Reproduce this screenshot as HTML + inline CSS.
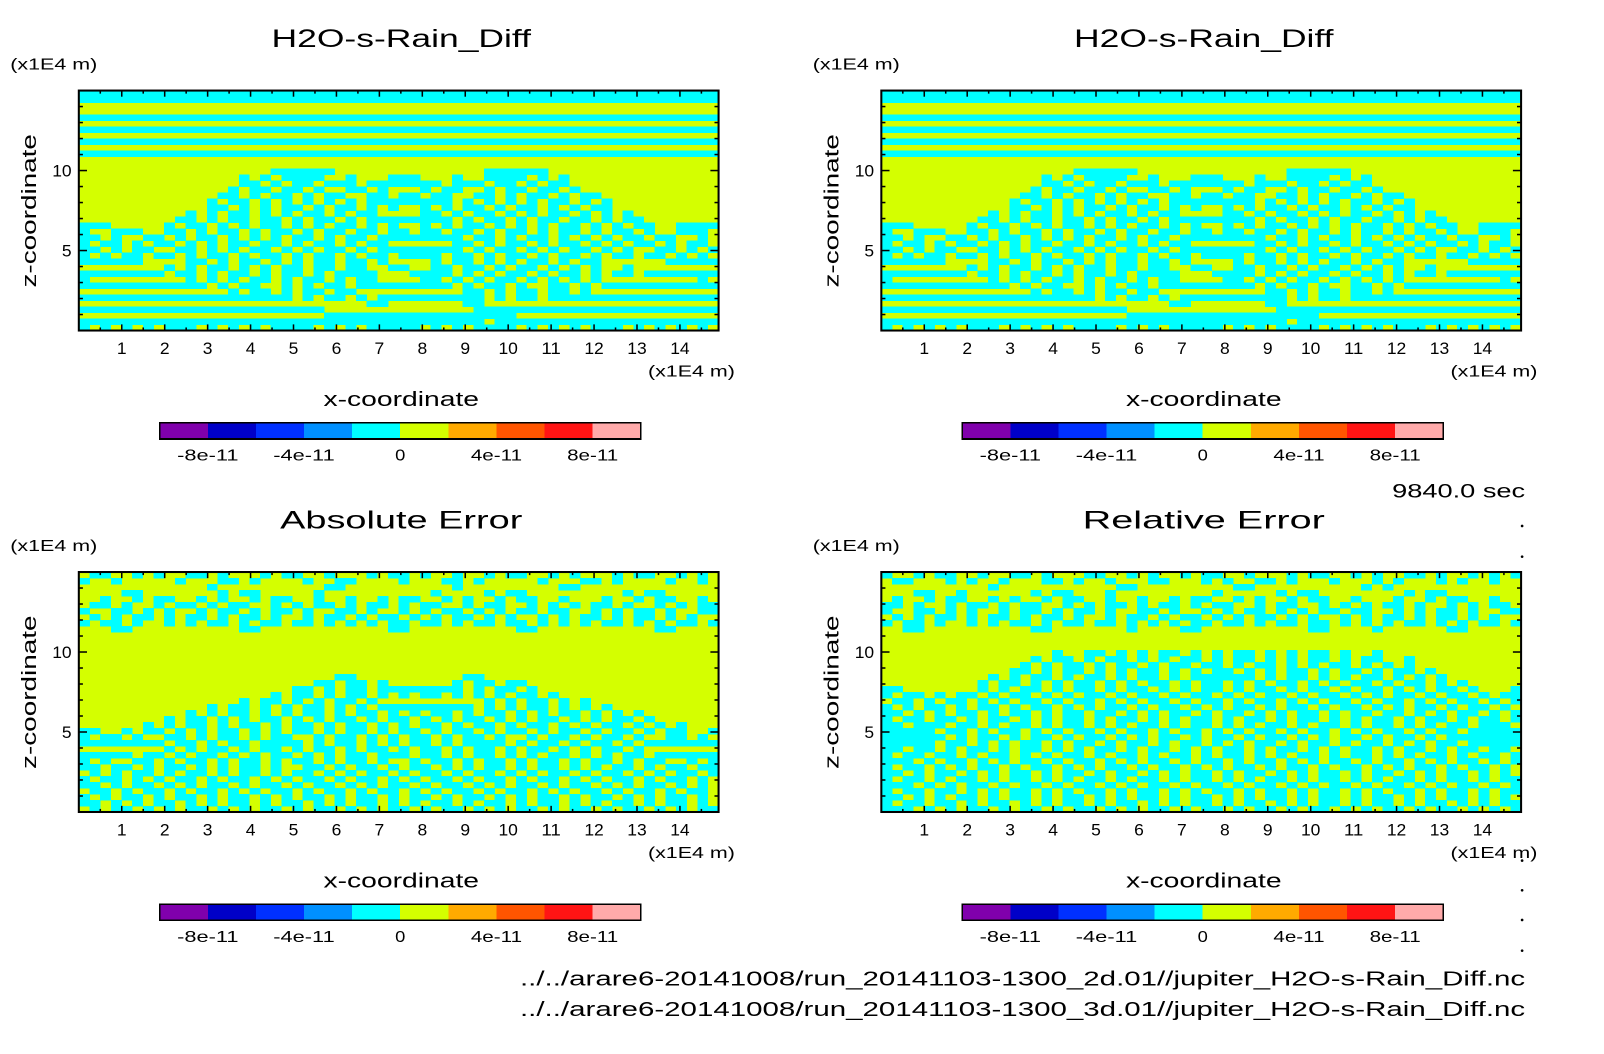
<!DOCTYPE html>
<html><head><meta charset="utf-8"><style>
html,body{margin:0;padding:0;background:#fff;}
svg{display:block;}
text{font-family:"Liberation Sans",sans-serif;fill:#000;}
</style></head><body>
<svg id="fig" width="1604" height="1054" viewBox="0 0 1567 1030" preserveAspectRatio="none" xmlns="http://www.w3.org/2000/svg">
<rect x="0" y="0" width="1567" height="1030" fill="#fff"/>
<text x="1490" y="486" font-size="19" text-anchor="end" textLength="130" lengthAdjust="spacingAndGlyphs">9840.0 sec</text>
<text x="1490" y="963" font-size="20" text-anchor="end" textLength="982" lengthAdjust="spacingAndGlyphs">../../arare6-20141008/run_20141103-1300_2d.01//jupiter_H2O-s-Rain_Diff.nc</text>
<text x="1490" y="993" font-size="20" text-anchor="end" textLength="982" lengthAdjust="spacingAndGlyphs">../../arare6-20141008/run_20141103-1300_3d.01//jupiter_H2O-s-Rain_Diff.nc</text>
<g>
<circle cx="1487" cy="514" r="1.3"/><circle cx="1487" cy="544" r="1.3"/><circle cx="1487" cy="841" r="1.3"/><circle cx="1487" cy="870" r="1.3"/><circle cx="1487" cy="899" r="1.3"/><circle cx="1487" cy="929" r="1.3"/>
</g>
</svg>
<script>
const xTicks=[1,2,3,4,5,6,7,8,9,10,11,12,13,14];
const yTicks=[5,10];
const xDomain=[0,14.9];
const yDomain=[0,15];
const cbColors=["#8000ac","#0000c8","#0030ff","#0090ff","#00ffff","#d4ff00","#ffaa00","#ff5500","#ff1414","#ffaaaa"];
const cbLabels=["-8e-11","-4e-11","0","4e-11","8e-11"];
const cbLabelIdx=[1,3,5,7,9];
const fieldA=[
"############################################################",
"############################################################",
"............................................................",
"............................................................",
"############################################################",
"............................................................",
"############################################################",
"............................................................",
"############################################################",
"............................................................",
"############################################################",
"............................................................",
"............................................................",
"..................######..............######................",
"...............#.#.####..#...###...#..####.#.#..............",
"...............##.#.##.###.#######.###.##.#.##..............",
"..............#.##.##.#..##.#...#.##..#.##.##.#.............",
".............##.#.##.#.##..##.##.##..##.#.##.#.##...........",
"............#.##.#.#.#.#.#.########.#.#.#.#.##.#.#..........",
"............##.#.#.##.#.##.#.#..#.#.##.#.##.#.#.##..........",
"..........#.#.##.#.#.##.#.##....##.#.##.#.#.##.#.#.#........",
".........##.#.##.##.#.##.#.########.#.##.#.##.##.#.##.......",
"###.....#.##.#.#.##.#.#.##.#.#..#.#.##.#.#.#.##.#.#.##..####",
"#..###..##.#.##.#.##.#.##.##.##.##.##.#.##.#.##.#.##.#..###.",
"##.#..##.#.##.#.#.#.##.#.##.########.##.#.##.#.#.#.##.##..#.",
"#.##.#.##.#.#.##.##.#.##.#.##......##.#.##.#.##.#.#.##.#.##.",
"##.#.##..##.#.#.##.#.#.##.#.########.#.##.#.#.##.#.#..##.#.#",
"#.#.##.##.#.##.#.##.#.##.#.##.####.##.#.##.#.##.#.##.##.#.#.",
"######....##.#.##.#.#.##.##.#....#.##.#.#.##.#.##......#####",
"........#.#.##.#.#.##.##.##..##..##.##.#.##.#.#.#..#........",
"########.##.#.##.#.##.#.####...####.#.#.##.#.##.#.##.#######",
"#.........#.#.#.##.#.##.#.##....##.#.#.##.#.#.#.#.........#.",
"############.#.##..#.#.##.#########.#.##.#..##.#.###########",
"..............#.##.#.##.##..........##.#.##.##.#............",
"####################.#.##.#.##########.#.##.################",
"...........................##.......##......................",
"#######################..............#######################",
".......................##################...................",
"######################################.#####################",
"#.#.#.#.###.#.#.#.####.#.#.#####.#.#.####.#.#.#.###.#.#.#.#."];
const fieldC=[
".##..#.#..##.#...#.##..#...#.##.#..#..#.##..#.#...#.##..#.#.",
"#..#.....#...##.#....#..##....#...##.#.....#...##.#....#..#.",
"............#..........##..........#.........##.............",
"....##.......#.##.....#..........#....#.##.........#.##.....",
"..#..#.##..#.#..#.##..#..#..#.##..#.#..#.##..#...#..#.##..#.",
".##.#..#.##.#.##..#.#.##.#.##.#.##..#.##..#.#.#.##.#..#.#.##",
"#..##.#.#..#.##.#.##.#..##.#..#.#.##.#.#.##.##..#.#.##.#..##",
".#.#.##.#.##.#.##.#..#.##.#.##.#.#.##.#.#..#.#.##.#.##.#.#..",
"#.##.#..#.#.##.#.##.##.#.#.#.##.##.#.##.##.#.#.#.##.#.#.##.#",
"...##..........##............##..........##...........##....",
"............................................................",
"............................................................",
"............................................................",
"............................................................",
"............................................................",
"............................................................",
"............................................................",
"........................##..........##......................",
"......................##.##.#......#.##.##..................",
"....................##.#.##.########.#.##.#.................",
"..................#.##.#.##.#.#.##.#.#.#.##.#...............",
"...............#.##.#.#.##.#..........#.#.##.#.#............",
"............#.##.#.#.##.#.#.#########.#.#.##.#.#.#..........",
"..........#.#.##.#.#.##.#.##.#.#.##.#.##.#.#.##.#.#.#.......",
"........#.##.#.#.##.#.#.##.#.##.#.#.##.#.#.##.#.#.##.#......",
"......#.#.##.#.##.#.##.#.##.#.#.##.#.##.#.##.#.#.##.#.#.#...",
"##..#.##.#.#.##.#.#.##.#.##.#.##.#.##.#.##.#.##.#.##.#.##..#",
"#.##.#..##.#.##.#.##..#.##.#.#.##.#.##.#..#.##.#.##.#..##.#.",
"########.##.#.##.####.#.##.#.#.##.#.####.#.##.#.##.#.#######",
"........#.#.##.#.##.#.##.#.##.#.##.#.##.#.##.#.#.##.#.......",
"#####.##.#.##.#.#.##.#.#.##.###.##.#.##.#.#.##.#.#.##.######",
"#.#..##.#.##.#.##.#.##.#.##.#..#.##.#.##.#.##.#.##.#.##..#.#",
"##.##.#.##.#.#.##.#..##.#.##.#.##.#.#.##.#.##.#.#.##.#.##.##",
".#.#.##.#.##.#.##.#.##.#.#.##.#.##.#.##.#.#.##.#.##.#.#.##.#",
"#.##.#.#.##.#.##.#.#.##.#.##.#.#.##.#.##.#.##.#.#.##.#.##.#.",
"##.#.##.#.#.##.#.##.#.##.#.#.##.#.##.#.#.##.#.##.#.#.##.#.#.",
".##.#.##.#.##.#.#.##.#.##.#.##.#.#.##.#.##.#.#.##.#.##.#.##.",
"#.#.##.#.##.#.##.#.#.##.#.##.#.##.#.##.#.#.##.#.##.#.#.##.#.",
"##.#.#.##.#.#.##.#.##.#.#.##.#.#.##.#.##.#.##.#.#.##.#.##.#.",
".#.##.#.#.##.#.#.##.#.##.#.#.##.#.##.#.#.##.#.##.#.##.#.#.##"];
const fieldD=[
"#..#.##..#..##.#...##..#.#..#.##..#...#.##..#.#..##.#..#.#.#",
".##...#.#..#...##.#..#...##...#.#..##.#...#...#.#...#.#..#..",
"..........#...........##.........##..........#.#............",
"...##..#......#.##...#.........#.....#.##........#.##.......",
".#..#.##..#.#..#.##..#..#..#.##..#.#..#.##..#...#..#.##..#..",
"##.#..#.##.#.##..#.#.##.#.##.#.##..#.##..#.#.#.##.#..#.#.##.",
"#..##.#.#..#.##.#.##.#..##.#..#.#.##.#.#.##.##..#.#.##.#..##",
".#.#.##.#.##.#.##.#..#.##.#.##.#.#.##.#.#..#.#.##.#.##.#.#..",
"#.##.#..#.#.##.#.##.##.#.#.#.##.##.#.##.##.#.#.#.##.#.#.##.#",
"..##..........##.......#....##..........##....#......##.....",
"............................................................",
"............................................................",
"............................................................",
"................#..##.#.#.##.#.#.##.#.#.##.#..#.............",
"..............#.##.#.##.#.#.##.#.##.#.#.##.#.##..#..........",
".............#.#.##.#.##.#.##.##.#.##.#.#.##.#.#.#..........",
"............##.#.##.#.#.##.#.#.##.#.#.##.#.##.#.##.#........",
"..........#.#.##.#.##.#.##.#.######.#.##.#.#.##.#.#.#.......",
".........#.##.#.#.##.#.#.##.#.##.#.#.##.#.#.##.#.##.#.#.....",
"##.......#.#.##.#.##.#.##.#.#.##.#.##.#.##.#.##.#.#.##.#...#",
"#.##.#.##.#.##.#.#.##.#.##.#.##.#.#.##.#.##.#.#.##.#.##.#.##",
".##.#.##.#.#.##.#.##.#.#.##.#.##.#.##.#.#.##.#.##.#.#.##.#.#",
"#.#.##.#.##.#.##.#.#.##.#.##.#.#.##.#.##.#.##.#.#.##.#.##.#.",
"##.#.#.##.#.##.#.##.##.#.#.##.#.##.#.#.##.#.##.##.#.#.##.#.#",
"#.##.##.#.##.#.#.##.#.##.#.#.##.#.##.#.##.#.#.##.#.##.#.##.#",
"##.###.##.#.##.#.##.#.#.##.#.##.#.#.##.#.##.#.##.#.#.##.###.",
"#####.##.#.##.#.#.##.#.##.#.##.#.#.##.#.##.#.#.##.#.##.#####",
"######.#.##.#.##.#.##.#.#.##.#.##.#.##.#.#.##.#.##.#.#######",
"#####.##.#.#.##.#.##.#.##.#.##.#.#.##.#.##.#.##.#.#.##.#####",
"##.##.#.##.#.##.#.#.##.#.##.#.#.##.#.##.#.#.##.#.##.#.##.##.",
"#.##.##.#.##.#.#.##.#.##.#.##.#.##.#.#.##.#.##.#.#.##.#.##.#",
"###.#.##.#.#.##.#.##.#.#.##.#.##.#.##.#.#.##.#.##.#.#.##.#.#",
"#.##.#.#.##.#.##.#.#.##.#.##.#.#.##.#.##.#.##.#.#.##.#.##.#.",
"##.#.##.#.#.##.#.##.#.##.#.#.##.#.##.#.#.##.#.##.#.#.##.#.#.",
"#.##.#.##.#.##.#.#.##.#.##.#.##.#.#.##.#.##.#.#.##.#.##.#.##",
"###.#.#.##.#.##.#.##.#.#.##.#.##.#.##.#.#.##.#.##.#.#.##.#.#",
"#.##.##.#.#.##.#.#.##.#.##.#.#.##.#.##.#.##.#.#.##.#.##.#.##",
"##.#.#.##.#.##.#.##.#.#.##.#.##.#.#.##.#.##.#.##.#.#.##.#.#.",
"#.##.##.#.##.#.#.##.#.##.#.#.##.#.##.#.#.##.#.##.#.##.#.#.##",
"###.#.#.##.#.##.#.##.#.#.##.#.##.#.##.#.##.#.#.##.#.##.#.#.#"];

const NS="http://www.w3.org/2000/svg";
const svg=document.getElementById('fig');
function mk(tag,attrs,parent){const e=document.createElementNS(NS,tag);for(const k in attrs)e.setAttribute(k,attrs[k]);(parent||svg).appendChild(e);return e;}
function txt(parent,x,y,s,size,anchor,len){const t=mk('text',{x:x,y:y,'font-size':size,'text-anchor':anchor||'start'},parent);if(len){t.setAttribute('textLength',len);t.setAttribute('lengthAdjust','spacingAndGlyphs');}t.textContent=s;return t;}

const panels=[
 {ox:0,oy:0,title:"H2O-s-Rain_Diff",field:fieldA,name:'panel-top-left'},
 {ox:784,oy:0,title:"H2O-s-Rain_Diff",field:fieldA,name:'panel-top-right'},
 {ox:0,oy:470.5,title:"Absolute Error",field:fieldC,name:'panel-absolute-error'},
 {ox:784,oy:470.5,title:"Relative Error",field:fieldD,name:'panel-relative-error'}];

panels.forEach(p=>{
 const g=mk('g',{});
 
 
 const L=77+p.ox,R=702+p.ox,T=88.5+p.oy,B=323+p.oy;
 const xs=v=>L+(v-xDomain[0])/(xDomain[1]-xDomain[0])*(R-L);
 const ys=v=>B-(v-yDomain[0])/(yDomain[1]-yDomain[0])*(B-T);
 const t=txt(g,392+p.ox,46+p.oy,p.title,24,'middle',p.title.length*16.9);
 
 
 const u=txt(g,10+p.ox,68+p.oy,"(x1E4 m)",15,'start',85);
 
 
 const hm=mk('g',{'shape-rendering':'crispEdges'},g);
 
 
 mk('rect',{x:L,y:T,width:R-L,height:B-T,fill:'#d4ff00'},hm);
 const rows=p.field.length,cols=60;
 const dx=(xDomain[1]-xDomain[0])/cols,dz=(yDomain[1]-yDomain[0])/rows;
 p.field.forEach((rowStr,r)=>{
  const s=(rowStr+"............................................................").slice(0,cols);
  const z1=yDomain[1]-r*dz,z0=z1-dz;
  let c=0;
  while(c<cols){
   if(s[c]==='#'){let e=c;while(e<cols&&s[e]==='#')e++;
    const rc=mk('rect',{x:xs(xDomain[0]+c*dx),y:ys(z1),width:xs(xDomain[0]+e*dx)-xs(xDomain[0]+c*dx)+0.3,height:ys(z0)-ys(z1)+0.3,fill:'#00ffff'},hm);
    
    
    c=e;}else c++;
  }
 });
 const fr=mk('rect',{x:L,y:T,width:R-L,height:B-T,fill:'none',stroke:'#000','stroke-width':2},g);
 
 
 for(let v=0.5;v<xDomain[1];v+=0.5){
  const x=xs(v),major=Math.abs(v-Math.round(v))<1e-6,len=major?6:3;
  mk('line',{x1:x,y1:B,x2:x,y2:B-len,stroke:'#000','stroke-width':1.5},g);
  mk('line',{x1:x,y1:T,x2:x,y2:T+len,stroke:'#000','stroke-width':1.5},g);
 }
 for(let v=1;v<yDomain[1];v+=1){
  const y=ys(v),len=(v%5===0)?8:4;
  mk('line',{x1:L,y1:y,x2:L+len,y2:y,stroke:'#000','stroke-width':1.5},g);
  mk('line',{x1:R,y1:y,x2:R-len,y2:y,stroke:'#000','stroke-width':1.5},g);
 }
 xTicks.forEach(v=>{const tl=txt(g,xs(v),346+p.oy,String(v),16,'middle',String(v).length*9.5);
  
  });
 yTicks.forEach(v=>{const tl=txt(g,L-7,ys(v)+6,String(v),16,'end',String(v).length*9.5);
  
  });
 const xu=txt(g,718+p.ox,368+p.oy,"(x1E4 m)",15,'end',85);
 
 
 const xt=txt(g,392+p.ox,397+p.oy,"x-coordinate",20,'middle',152);
 
 
 const yt=txt(g,0,0,"z-coordinate",20,'middle',150);
 yt.setAttribute('transform','translate('+(35+p.ox)+','+(206+p.oy)+') rotate(-90)');
 
 
 const cb=mk('g',{'shape-rendering':'crispEdges'},g);
 
 
 const cL=156+p.ox,cR=626+p.ox,cT=413+p.oy,cB=429+p.oy,cw=(cR-cL)/cbColors.length;
 cbColors.forEach((col,i)=>{const r=mk('rect',{x:cL+i*cw,y:cT,width:cw+0.3,height:cB-cT,fill:col},cb);
  
  });
 mk('rect',{x:cL,y:cT,width:cR-cL,height:cB-cT,fill:'none',stroke:'#000','stroke-width':1.5},cb);
 cbLabels.forEach((s,i)=>{const tl=txt(g,cL+cbLabelIdx[i]*cw,450+p.oy,s,15,'middle',s.length*10);
  
  });
});
</script>
</body></html>
